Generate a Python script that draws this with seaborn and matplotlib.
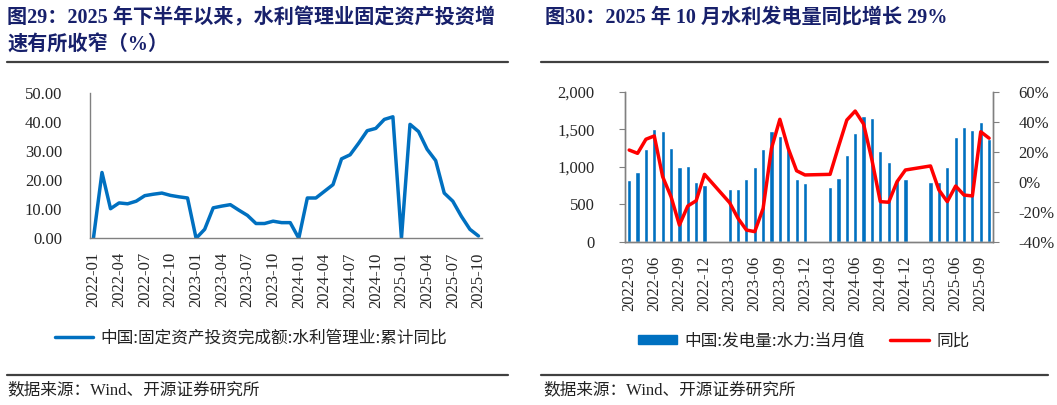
# Two panels: water-management fixed investment YoY, hydro power output + YoY

import numpy as np
import pandas as pd
import seaborn as sns
import matplotlib.pyplot as plt
from matplotlib.lines import Line2D
from matplotlib.patches import Patch
from matplotlib.font_manager import FontProperties

SERIF_CJK = ['Liberation Serif', 'Noto Sans CJK SC']
CJK = ['Noto Sans CJK SC', 'DejaVu Sans']
NAVY = '#17206B'
BLUE = '#0070C0'
RED = '#FF0000'

# left panel: cumulative YoY of fixed asset investment, water management (%)
invest_months = pd.period_range('2022-01', '2025-10', freq='M').strftime('%Y-%m').tolist()
invest_yoy = [0.0, 22.7, 10.2, 12.2, 11.9, 12.8, 14.7, 15.2, 15.6, 14.8, 14.3, 13.9,
              0.0, 3.1, 10.5, 11.1, 11.6, 9.7, 7.9, 5.1, 5.1, 5.9, 5.4, 5.4,
              0.0, 13.9, 13.9, 16.2, 18.5, 27.4, 28.8, 32.8, 37.1, 37.9, 41.0, 41.9,
              0.0, 39.3, 36.8, 30.7, 26.8, 15.6, 12.8, 7.6, 3.1, 0.8]

# right panel: hydro power output (monthly) and YoY (%)
nan = np.nan
hydro_months = pd.period_range('2022-03', '2025-10', freq='M').strftime('%Y-%m').tolist()
hydro_output = [822, 933, 1236, 1498, 1476, 1245, 1000, 1009, 792, 756,
                nan, nan, 698, 698, 836, 992, 1232, 1480, 1409, 1232, 840, 787,
                nan, nan, 725, 845, 1160, 1453, 1676, 1645, 1209, 1063, 832, 836,
                nan, nan, 792, 792, 1000, 1400, 1525, 1489, 1600, 1365]
hydro_yoy = [21.1, 18.9, 28.3, 30.5, 3.3, -10.0, -28.9, -16.2, -12.7, 4.9,
             nan, nan, -14.0, -24.4, -32.2, -33.3, -17.8, 22.2, 41.6, 22.2, 7.3, 4.5,
             nan, nan, 4.9, 23.3, 41.1, 47.1, 38.5, 14.5, -13.3, -13.7, 0.0, 7.8,
             nan, nan, 10.5, -5.5, -13.3, -2.9, -8.9, -9.5, 33.3, 29.0]

sns.set_style('white')
plt.rcParams['font.family'] = SERIF_CJK
plt.rcParams['axes.unicode_minus'] = False

W, H = 1057, 405
fig = plt.figure(figsize=(W / 100, H / 100), dpi=100)


def box(x0, y0, x1, y1):
    return [x0 / W, 1 - y1 / H, (x1 - x0) / W, (y1 - y0) / H]


def style_axis(ax):
    for s in ['left', 'bottom', 'right', 'top']:
        ax.spines[s].set_color('#808080')
        ax.spines[s].set_linewidth(1.0)
    ax.tick_params(axis='x', direction='in', length=4, color='#808080',
                   labelsize=12, pad=10, labelrotation=90)
    ax.tick_params(axis='y', direction='out', length=4, color='#808080', labelsize=12)


# ---- left chart ----
ax1 = fig.add_axes(box(90, 93.3, 482.3, 238.3))
inv = pd.DataFrame({'pos': np.arange(len(invest_months)), 'yoy': invest_yoy})
sns.lineplot(data=inv, x='pos', y='yoy', ax=ax1, color=BLUE, linewidth=2.5)
ax1.set_xlim(-0.4, len(invest_months) - 1 + 0.45)
ax1.set_ylim(0, 50)
ax1.set_yticks(range(0, 51, 10))
ax1.set_yticklabels([f'{v:.2f}' for v in range(0, 51, 10)])
ax1.set_xticks(range(0, len(invest_months), 3))
ax1.set_xticklabels(invest_months[::3])
ax1.set_xlabel('')
ax1.set_ylabel('')
ax1.spines['top'].set_visible(False)
ax1.spines['right'].set_visible(False)
style_axis(ax1)
ax1.tick_params(axis='y', pad=16)

# ---- right chart ----
ax2 = fig.add_axes(box(625, 91.7, 993.3, 241.7))
hyd = pd.DataFrame({'month': hydro_months, 'output': hydro_output,
                    'pos': np.arange(len(hydro_months)), 'yoy': hydro_yoy})
sns.barplot(data=hyd.dropna(subset=['output']), x='month', y='output', order=hydro_months,
            color=BLUE, saturation=1, width=0.5, errorbar=None, ax=ax2)
ax2.set_ylim(0, 2000)
ax2.set_yticks(range(0, 2001, 500))
ax2.set_yticklabels([f'{v:,}' for v in range(0, 2001, 500)])
ax2.set_xlabel('')
ax2.set_ylabel('')

ax3 = ax2.twinx()
sns.lineplot(data=hyd.dropna(subset=['yoy']), x='pos', y='yoy', ax=ax3,
             color=RED, linewidth=2.5)
ax3.set_ylim(-40, 60)
ax3.set_yticks(range(-40, 61, 20))
ax3.set_yticklabels([f'{v}%' for v in range(-40, 61, 20)])
ax3.set_ylabel('')
ax3.set_xlabel('')

for a in (ax2, ax3):
    a.set_xlim(-0.5, len(hydro_months) - 0.5)
ax2.set_xticks(range(0, len(hydro_months), 3))
ax2.set_xticklabels(hydro_months[::3])
ax2.spines['top'].set_visible(False)
ax3.spines['top'].set_visible(False)
style_axis(ax2)
style_axis(ax3)
ax2.tick_params(axis='y', pad=18)
ax3.tick_params(axis='y', pad=14)

# ---- legends ----
leg_font = FontProperties(family=CJK, size=12)
fig.legend(handles=[Line2D([], [], color=BLUE, linewidth=2.5)],
           labels=['中国:固定资产投资完成额:水利管理业:累计同比'],
           loc='center left', bbox_to_anchor=(55 / W, 1 - 338 / H),
           frameon=False, borderpad=0, borderaxespad=0,
           handlelength=2.3, handletextpad=0.4, prop=leg_font, labelcolor='#222222')
fig.legend(handles=[Patch(color=BLUE), Line2D([], [], color=RED, linewidth=2.5)],
           labels=['中国:发电量:水力:当月值', '同比'], ncol=2,
           loc='center left', bbox_to_anchor=(638 / W, 1 - 341 / H),
           frameon=False, borderpad=0, borderaxespad=0, handleheight=0.5,
           handlelength=2.35, handletextpad=0.45, columnspacing=1.5,
           prop=leg_font, labelcolor='#222222')

# ---- titles, rules, sources ----
tkw = dict(fontsize=14.5, fontweight='bold', color=NAVY, va='center', family=SERIF_CJK)
fig.text(7 / W, 1 - 18 / H, '图29：2025 年下半年以来，水利管理业固定资产投资增', **tkw)
fig.text(7 / W, 1 - 46 / H, '速有所收窄（%）', **tkw)
fig.text(545 / W, 1 - 18 / H, '图30：2025 年 10 月水利发电量同比增长 29%', **tkw)

for x0, x1 in [(7, 508), (541, 1048)]:
    fig.add_artist(Line2D([x0 / W, x1 / W], [1 - 62 / H] * 2, color='#404040', linewidth=1.6))
    fig.add_artist(Line2D([x0 / W, x1 / W], [1 - 375 / H] * 2, color='#404040', linewidth=1.6))

skw = dict(fontsize=12, color='#222222', va='center', family=SERIF_CJK)
fig.text(7 / W, 1 - 390 / H, '数据来源：Wind、开源证券研究所', **skw)
fig.text(543 / W, 1 - 390 / H, '数据来源：Wind、开源证券研究所', **skw)

fig.savefig('out.png', dpi=100)
